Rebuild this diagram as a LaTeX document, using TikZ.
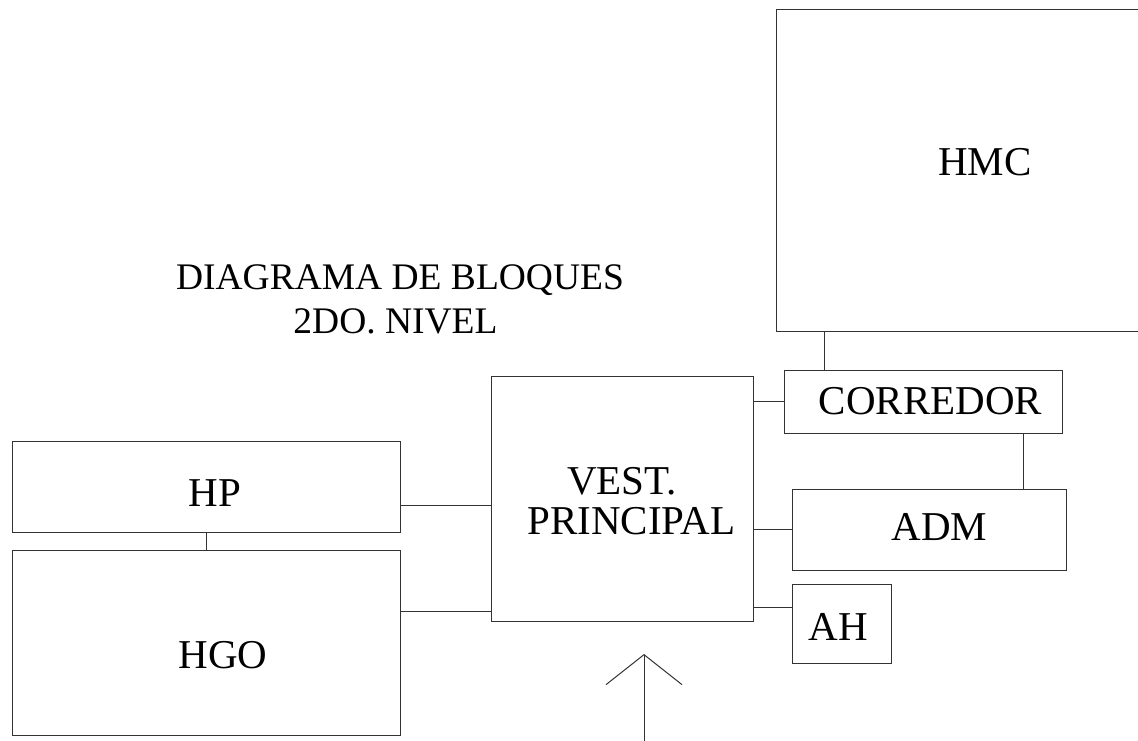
\documentclass[tikz,border=0pt]{standalone}
\usepackage{fontspec}
\setmainfont{Liberation Serif}
\usetikzlibrary{arrows.meta}

\begin{document}
\begin{tikzpicture}[
    x=1pt, y=-1pt,
    bloque/.style={draw=black!80, line width=1pt, rectangle, inner sep=0pt},
    rotulo/.style={anchor=base, inner sep=0pt, font=\fontsize{41}{44}\selectfont},
    enlace/.style={draw=black!80, line width=1pt}
  ]
  \useasboundingbox (0,0) rectangle (1138,740);
  \clip (0,0) rectangle (1138,740);

  % bloques
  \node[bloque, minimum width=418, minimum height=322] (hmc) at (985,170) {};
  \node[bloque, minimum width=278, minimum height=63] (corredor) at (923,401.5) {};
  \node[bloque, minimum width=274, minimum height=81] (adm) at (929,529.5) {};
  \node[bloque, minimum width=99, minimum height=79] (ah) at (841.5,623.5) {};
  \node[bloque, minimum width=262, minimum height=245] (vest) at (622,498.5) {};
  \node[bloque, minimum width=388, minimum height=91] (hp) at (206,486.5) {};
  \node[bloque, minimum width=388, minimum height=185] (hgo) at (206,642.5) {};

  % rotulos
  \node[rotulo] (t_hmc) at (985,175) {HMC};
  \node[rotulo] (t_corredor) at (930.5,414) {CORREDOR};
  \node[rotulo] (t_adm) at (939.5,540) {ADM};
  \node[rotulo] (t_ah) at (838,640) {AH};
  \node[rotulo] (t_vest) at (622,494) {VEST.};
  \node[rotulo] (t_principal) at (631.5,534) {PRINCIPAL};
  \node[rotulo] (t_hp) at (215,506) {HP};
  \node[rotulo] (t_hgo) at (223,668) {HGO};

  \node[rotulo, font=\fontsize{37.5}{44}\selectfont] (titulo_a) at (400,289) {DIAGRAMA DE BLOQUES};
  \node[rotulo, font=\fontsize{37.5}{44}\selectfont] (titulo_b) at (395.5,333) {2DO. NIVEL};

  % enlaces
  \coordinate (x_hmc) at (824,0);
  \coordinate (x_adm) at (1023,0);
  \coordinate (y_ah) at (0,607.7);
  \coordinate (y_hp) at (0,505.3);
  \coordinate (y_hgo) at (0,611.3);

  \draw[enlace] (hmc.south -| x_hmc) -- (corredor.north -| x_hmc);
  \draw[enlace] (corredor.south -| x_adm) -- (adm.north -| x_adm);
  \draw[enlace] (vest.east |- corredor.west) -- (corredor.west);
  \draw[enlace] (vest.east |- adm.west) -- (adm.west);
  \draw[enlace] (vest.east |- y_ah) -- (ah.west |- y_ah);
  \draw[enlace] (hp.east |- y_hp) -- (vest.west |- y_hp);
  \draw[enlace] (hgo.east |- y_hgo) -- (vest.west |- y_hgo);
  \draw[enlace] (hp.south) -- (hgo.north);

  % acceso
  \coordinate (acceso) at (644,745);
  \coordinate (punta) at (644,654);
  \draw[enlace, -{Straight Barb[length=30pt, width=76pt]}] (acceso) -- (punta);
\end{tikzpicture}
\end{document}
